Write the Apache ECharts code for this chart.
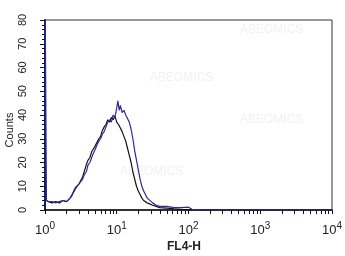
<!DOCTYPE html>
<html><head><meta charset="utf-8">
<script src="https://cdn.jsdelivr.net/npm/echarts@6/dist/echarts.min.js"></script>
<style>html,body{margin:0;padding:0;background:#fff}#c{width:345px;height:256px}</style>
</head><body><div id="c"></div>
<script>
// x positions are log10(FL4-H channel)
const blackX = [0.02,0.05,0.10,0.15,0.20,0.25,0.30,0.35,0.375,0.40,0.425,0.45,0.475,0.50,0.525,0.55,0.575,0.60,0.625,0.65,0.675,0.70,0.725,0.75,0.775,0.80,0.825,0.85,0.875,0.90,0.925,0.95,0.975,1.00,1.025,1.05,1.075,1.10,1.125,1.15,1.175,1.20,1.225,1.25,1.275,1.30,1.325,1.35,1.375,1.40,1.425,1.45,1.50,1.55,1.60,1.70,1.80,1.90,2.00,2.10,4.00];
const blackY = [4,3.5,3,3.5,3,4,3.5,5,6,8,9.5,9,11,12.5,14,16.5,19,21,22,24.5,25,27,28.5,30,31,33.5,35,36,38,37,39,38,39.5,37,36,34.5,33,31,29,26,23,20,16,13,10,8,6.5,5,4,3.5,3,2.5,2,1.5,1,0.8,0.5,0.3,0.2,0,0];
const blueX = [0.00,0.02,0.05,0.10,0.15,0.20,0.25,0.30,0.35,0.375,0.40,0.425,0.45,0.475,0.50,0.525,0.55,0.575,0.60,0.625,0.65,0.675,0.70,0.725,0.75,0.775,0.80,0.825,0.85,0.875,0.90,0.925,0.95,0.975,1.00,1.015,1.035,1.05,1.075,1.10,1.125,1.15,1.175,1.20,1.225,1.25,1.275,1.30,1.325,1.35,1.375,1.40,1.425,1.45,1.50,1.55,1.60,1.70,1.80,1.90,2.00,2.05,2.10,4.00];
const blueY = [100,4,3.5,3.5,3,3.5,4,3.5,5,6.5,7.5,9,10,10.5,12,13,15,16,19,20,22,24,25.5,27.5,29,30,32,33,35,37,38,37,40,39,43,46,42,44,41,42,40,39.5,37,34,30,25,21,17,13,10,8,6.5,5,4.5,3,2,1.5,1.5,1,1,1.2,0.3,0.2,0];
const decadeLabels = ['0','1','2','3','4'];
const yTicks = [0,10,20,30,40,50,60,70,80];

const minorX = [];
for (let d = 0; d < 4; d++) for (let k = 1; k <= 9; k++) minorX.push(d + Math.log10(k));
minorX.push(4);

const chart = echarts.init(document.getElementById('c'));
chart.setOption({
  animation: false,
  backgroundColor: '#fff',
  grid: {left: 45, right: 12, top: 20, bottom: 46, show: true, borderColor: '#333', borderWidth: 1},
  xAxis: {
    type: 'value', min: 0, max: 4,
    axisLine: {show: true, lineStyle: {color: '#111', width: 1.5}},
    axisTick: {show: true, customValues: minorX, length: 4, inside: false, lineStyle: {color: '#111', width: 1}},
    splitLine: {show: false},
    axisLabel: {
      customValues: [0,1,2,3,4], margin: 11,
      formatter: v => '{b|10}{s|' + decadeLabels[Math.round(v)] + '}',
      rich: {
        b: {fontFamily: 'Liberation Sans', fontSize: 13, color: '#222'},
        s: {fontFamily: 'Liberation Sans', fontSize: 10, color: '#222', padding: [0,0,8,0]}
      }
    }
  },
  yAxis: {
    type: 'value', min: 0, max: 80, interval: 10,
    axisLine: {show: true, lineStyle: {color: '#1a1a6e', width: 2}},
    axisTick: {show: true, length: 5, lineStyle: {color: '#111'}},
    minorTick: {show: true, splitNumber: 5, length: 3, lineStyle: {color: '#111'}},
    splitLine: {show: false},
    axisLabel: {rotate: 90, margin: 17, fontFamily: 'Liberation Sans', fontSize: 11, color: '#222',
      formatter: v => String(yTicks[Math.round(v / 10)])}
  },
  graphic: [
    {type: 'text', left: 150, top: 72, z: 0, style: {text: 'ABEOMICS', fontSize: 12, fill: '#f1f1f4', fontFamily: 'Liberation Sans'}},
    {type: 'text', left: 240, top: 24, z: 0, style: {text: 'ABEOMICS', fontSize: 12, fill: '#f1f1f4', fontFamily: 'Liberation Sans'}},
    {type: 'text', left: 240, top: 114, z: 0, style: {text: 'ABEOMICS', fontSize: 12, fill: '#f1f1f4', fontFamily: 'Liberation Sans'}},
    {type: 'text', left: 120, top: 166, z: 0, style: {text: 'ABEOMICS', fontSize: 12, fill: '#f1f1f4', fontFamily: 'Liberation Sans'}},
    {type: 'text', x: 10, y: 130, rotation: Math.PI / 2, style: {text: 'Counts', fontSize: 11, fill: '#222', fontFamily: 'Liberation Sans', align: 'center', verticalAlign: 'middle'}},
    {type: 'text', x: 184, y: 247, style: {text: 'FL4-H', fontSize: 12, fontWeight: 'bold', fill: '#222', fontFamily: 'Liberation Sans', align: 'center', verticalAlign: 'middle'}}
  ],
  series: [
    {type: 'line', data: blackX.map((x, i) => [x, blackY[i]]), showSymbol: false, clip: true,
      lineStyle: {color: '#111', width: 1.2}, z: 3},
    {type: 'line', data: blueX.map((x, i) => [x, blueY[i]]), showSymbol: false, clip: true,
      lineStyle: {color: '#2b2b9a', width: 1.2}, z: 4}
  ]
});
</script></body></html>
